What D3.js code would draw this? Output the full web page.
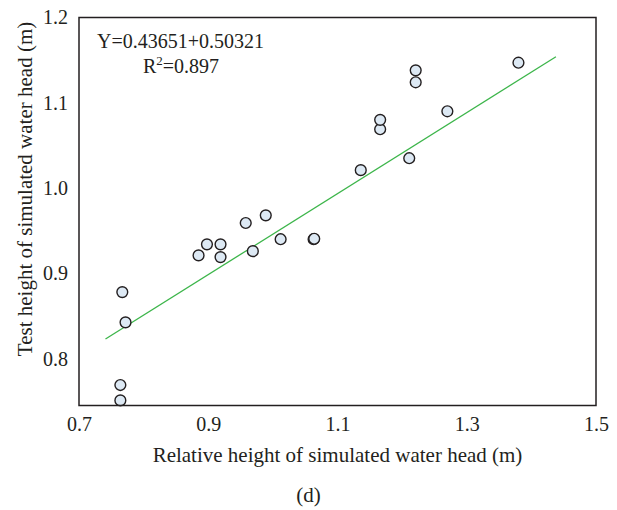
<!DOCTYPE html>
<html>
<head>
<meta charset="utf-8">
<script src="https://cdn.jsdelivr.net/npm/d3@7"></script>
<style>
  html, body { margin: 0; padding: 0; background: #fff; }
  svg { display: block; }
  text { font-family: "Liberation Serif", "DejaVu Serif", serif; fill: #231f20; }
</style>
</head>
<body>
<svg id="chart" width="617" height="510"></svg>
<script>
// ---- data ----
const relHeight = [0.767, 0.772, 0.764, 0.764, 0.885, 0.898, 0.919, 0.919, 0.969, 1.012, 1.063, 1.064,
                   0.958, 0.989, 1.136, 1.211, 1.166, 1.166, 1.270, 1.221, 1.221, 1.380];
const testHeight = [0.878, 0.8425, 0.769, 0.751, 0.921, 0.934, 0.934, 0.919, 0.926, 0.940, 0.940, 0.9405,
                    0.959, 0.968, 1.021, 1.035, 1.069, 1.080, 1.090, 1.124, 1.138, 1.147];
const fitX = [0.741, 1.438];
const fitY = [0.823, 1.154];
const xTicks = [0.7, 0.9, 1.1, 1.3, 1.5];
const yTicks = [0.8, 0.9, 1.0, 1.1, 1.2];
const xDomain = [0.7, 1.5];
const yDomain = [0.745, 1.2];
const xTitle = "Relative height of simulated water head (m)";
const yTitle = "Test height of simulated water head (m)";
const eqText = "Y=0.43651+0.50321";
const r2Value = "=0.897";
const panelLabel = "(d)";

// ---- layout ----
const svg = d3.select("#chart");
const L = 79, T = 17.5, R = 596, B = 405.5;
const x = d3.scaleLinear().domain(xDomain).range([L, R]);
const y = d3.scaleLinear().domain(yDomain).range([B, T]);

// regression line
svg.append("path")
  .datum(fitX.map((v, i) => [v, fitY[i]]))
  .attr("d", d3.line().x(d => x(d[0])).y(d => y(d[1])))
  .attr("fill", "none")
  .attr("stroke", "#3cb54a")
  .attr("stroke-width", 1.3);

// points
svg.append("g").selectAll("circle")
  .data(relHeight.map((v, i) => [v, testHeight[i]]))
  .join("circle")
  .attr("cx", d => x(d[0]))
  .attr("cy", d => y(d[1]))
  .attr("r", 5.4)
  .attr("fill", "#dde9f4")
  .attr("stroke", "#231f20")
  .attr("stroke-width", 1.4);

// frame
svg.append("rect")
  .attr("x", L).attr("y", T)
  .attr("width", R - L).attr("height", B - T)
  .attr("fill", "none")
  .attr("stroke", "#231f20")
  .attr("stroke-width", 1.5);

// axes
const fmt = d3.format(".1f");
const gx = svg.append("g").attr("transform", `translate(0,${B})`)
  .call(d3.axisBottom(x).tickValues(xTicks).tickFormat(fmt).tickSize(0).tickPadding(11));
const gy = svg.append("g").attr("transform", `translate(${L},0)`)
  .call(d3.axisLeft(y).tickValues(yTicks).tickFormat(fmt).tickSize(0).tickPadding(11));
[gx, gy].forEach(g => {
  g.select(".domain").remove();
  g.selectAll("text")
    .attr("font-family", "Liberation Serif, DejaVu Serif, serif")
    .attr("font-size", 20)
    .attr("fill", "#231f20");
});

// titles
svg.append("text")
  .attr("x", (L + R) / 2).attr("y", 462)
  .attr("text-anchor", "middle")
  .attr("font-size", 21)
  .text(xTitle);

svg.append("text")
  .attr("transform", `translate(32,189) rotate(-90)`)
  .attr("text-anchor", "middle")
  .attr("font-size", 21)
  .text(yTitle);

svg.append("text")
  .attr("x", 308.5).attr("y", 502)
  .attr("text-anchor", "middle")
  .attr("font-size", 21)
  .text(panelLabel);

// equation
svg.append("text")
  .attr("x", 97).attr("y", 48)
  .attr("font-size", 20)
  .text(eqText);

const r2 = svg.append("text")
  .attr("x", 143).attr("y", 73)
  .attr("font-size", 20);
r2.append("tspan").text("R");
r2.append("tspan").attr("dy", -8).attr("font-size", 13).text("2");
r2.append("tspan").attr("dy", 8).text(r2Value);
</script>
</body>
</html>
